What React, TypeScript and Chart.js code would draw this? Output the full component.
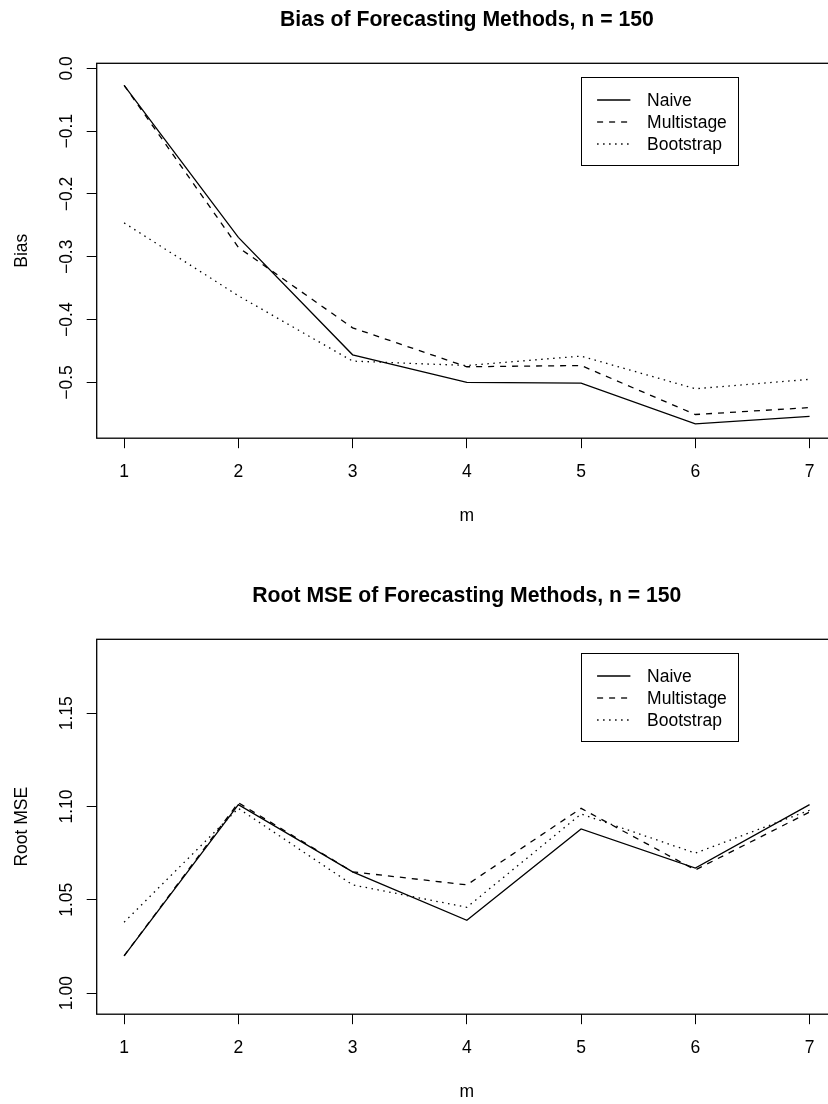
import React, { useEffect, useRef } from "react";
import { Chart, registerables } from "chart.js";

Chart.register(...registerables);

// ---------- data ----------
const M_VALUES = [1, 2, 3, 4, 5, 6, 7];
const X_TICKS = [1, 2, 3, 4, 5, 6, 7];
const SERIES_NAMES = ["Naive", "Multistage", "Bootstrap"];

const BIAS_NAIVE = [-0.027, -0.269, -0.456, -0.5, -0.501, -0.566, -0.554];
const BIAS_MULTISTAGE = [-0.027, -0.285, -0.413, -0.475, -0.473, -0.551, -0.54];
const BIAS_BOOTSTRAP = [-0.246, -0.362, -0.466, -0.473, -0.458, -0.51, -0.495];
const BIAS_TICKS = [0, -0.1, -0.2, -0.3, -0.4, -0.5];

const RMSE_NAIVE = [1.02, 1.101, 1.065, 1.039, 1.088, 1.067, 1.101];
const RMSE_MULTISTAGE = [1.02, 1.102, 1.065, 1.058, 1.099, 1.066, 1.097];
const RMSE_BOOTSTRAP = [1.038, 1.099, 1.058, 1.046, 1.096, 1.075, 1.098];
const RMSE_TICKS = [1.0, 1.05, 1.1, 1.15];

const TITLE_BIAS = "Bias of Forecasting Methods, n = 150";
const TITLE_RMSE = "Root MSE of Forecasting Methods, n = 150";

// ---------- style ----------
const FONT = "'Liberation Sans', Arial, Helvetica, sans-serif";
const BASE = 17.5;
const DASHES = [[], [6, 6], [1.5, 4.5]];

const fmt = (v: number, d: number) => {
  const s = Math.abs(v).toFixed(d);
  return v < -1e-9 ? "\u2212" + s : s;
};

const boxPlugin = {
  id: "rBox",
  afterDraw(chart: any) {
    const { ctx, chartArea } = chart;
    ctx.save();
    ctx.strokeStyle = "#000";
    ctx.lineWidth = 1.3;
    ctx.setLineDash([]);
    ctx.strokeRect(chartArea.left, chartArea.top, chartArea.right - chartArea.left, chartArea.bottom - chartArea.top);
    ctx.restore();
  },
};

const yTickPlugin = {
  id: "rYTicks",
  afterDraw(chart: any, _args: any, opts: any) {
    const { ctx, chartArea } = chart;
    const ys = chart.scales.y;
    ctx.save();
    ctx.fillStyle = "#000";
    ctx.font = `${BASE}px ${FONT}`;
    ctx.textAlign = "center";
    ctx.textBaseline = "alphabetic";
    for (const t of ys.ticks) {
      const py = ys.getPixelForValue(t.value);
      ctx.save();
      ctx.translate(chartArea.left - opts.offset, py);
      ctx.rotate(-Math.PI / 2);
      ctx.fillText(fmt(t.value, opts.decimals), 0, 0);
      ctx.restore();
    }
    ctx.restore();
  },
};

const legendPlugin = {
  id: "rLegend",
  afterDraw(chart: any, _args: any, opts: any) {
    const { ctx, chartArea } = chart;
    const xs = chart.scales.x;
    const left = xs.getPixelForValue(opts.xValue);
    const top = chartArea.top + opts.offsetTop;
    ctx.save();
    ctx.font = `${BASE}px ${FONT}`;
    const ds = chart.data.datasets;
    let tw = 0;
    ds.forEach((d: any) => (tw = Math.max(tw, ctx.measureText(d.label).width)));
    const w = 16 + 33.3 + 16.7 + tw + 11.6;
    const h = 22.7 + (ds.length - 1) * 22 + 21.3;
    ctx.fillStyle = "#fff";
    ctx.fillRect(left, top, w, h);
    ctx.strokeStyle = "#000";
    ctx.lineWidth = 1;
    ctx.setLineDash([]);
    ctx.strokeRect(Math.round(left) + 0.5, Math.round(top) + 0.5, Math.round(w), Math.round(h));
    ds.forEach((d: any, i: number) => {
      const y = top + 22.7 + i * 22;
      ctx.strokeStyle = "#000";
      ctx.lineWidth = d.borderWidth;
      ctx.setLineDash(d.borderDash || []);
      ctx.beginPath();
      ctx.moveTo(left + 16, y);
      ctx.lineTo(left + 49.3, y);
      ctx.stroke();
      ctx.fillStyle = "#000";
      ctx.textAlign = "left";
      ctx.textBaseline = "middle";
      ctx.fillText(d.label, left + 66, y + 0.8);
    });
    ctx.restore();
  },
};

function makeConfig(
  title: string,
  yLabel: string,
  series: number[][],
  yMin: number,
  yMax: number,
  yTicks: number[],
  decimals: number,
  xTitleBottom: number
): any {
  return {
    type: "line",
    data: {
      datasets: series.map((vals, i) => ({
        label: SERIES_NAMES[i],
        data: M_VALUES.map((m, j) => ({ x: m, y: vals[j] })),
        borderColor: "#000",
        borderWidth: 1.3,
        borderDash: DASHES[i],
        borderCapStyle: "butt",
        pointRadius: 0,
        tension: 0,
        fill: false,
      })),
    },
    options: {
      animation: false,
      responsive: false,
      maintainAspectRatio: false,
      layout: { padding: { left: 0, right: 1, top: 0, bottom: 0 } },
      plugins: {
        legend: { display: false },
        tooltip: { enabled: false },
        title: {
          display: true,
          text: title,
          fullSize: false,
          color: "#000",
          font: { family: FONT, size: 21.2, weight: "bold" },
          padding: { top: 7.3, bottom: 30.56 },
        },
        rLegend: { xValue: 5, offsetTop: 14 },
        rYTicks: { decimals, offset: 25.2 },
      },
      scales: {
        x: {
          type: "linear",
          min: 0.76,
          max: 7.24,
          afterBuildTicks: (s: any) => {
            s.ticks = X_TICKS.map((v) => ({ value: v }));
          },
          grid: { display: true, drawOnChartArea: false, drawTicks: true, tickLength: 10, color: "#000", lineWidth: 1 },
          border: { display: false },
          ticks: {
            color: "#000",
            font: { family: FONT, size: BASE },
            padding: 13.4,
            maxRotation: 0,
            autoSkip: false,
            callback: (v: any) => String(v),
          },
          title: {
            display: true,
            text: "m",
            color: "#000",
            font: { family: FONT, size: BASE },
            padding: { top: 9.3, bottom: xTitleBottom },
          },
        },
        y: {
          type: "linear",
          min: yMin,
          max: yMax,
          afterBuildTicks: (s: any) => {
            s.ticks = yTicks.map((v) => ({ value: v }));
          },
          grid: { display: true, drawOnChartArea: false, drawTicks: true, tickLength: 10, color: "#000", lineWidth: 1 },
          border: { display: false },
          ticks: { display: false },
          title: {
            display: true,
            text: yLabel,
            color: "#000",
            font: { family: FONT, size: BASE },
            padding: { top: 11.3, bottom: 54.4 },
          },
        },
      },
    },
    plugins: [boxPlugin, yTickPlugin, legendPlugin],
  };
}

export default function App() {
  const r1 = useRef<HTMLCanvasElement>(null);
  const r2 = useRef<HTMLCanvasElement>(null);

  useEffect(() => {
    const c1 = new Chart(
      r1.current as HTMLCanvasElement,
      makeConfig(TITLE_BIAS, "Bias", [BIAS_NAIVE, BIAS_MULTISTAGE, BIAS_BOOTSTRAP], -0.5887, 0.008, BIAS_TICKS, 1, 49.7)
    );
    const c2 = new Chart(
      r2.current as HTMLCanvasElement,
      makeConfig(TITLE_RMSE, "Root MSE", [RMSE_NAIVE, RMSE_MULTISTAGE, RMSE_BOOTSTRAP], 0.9887, 1.1896, RMSE_TICKS, 2, 1.7)
    );
    return () => {
      c1.destroy();
      c2.destroy();
    };
  }, []);

  return (
    <div
      style={{
        position: "fixed",
        left: 0,
        top: 0,
        width: 828,
        height: 1104,
        overflow: "hidden",
        background: "#fff",
      }}
    >
      <canvas ref={r1} width={838} height={576} style={{ position: "absolute", left: 0, top: 0, width: 838, height: 576 }} />
      <canvas ref={r2} width={838} height={528} style={{ position: "absolute", left: 0, top: 576, width: 838, height: 528 }} />
    </div>
  );
}
